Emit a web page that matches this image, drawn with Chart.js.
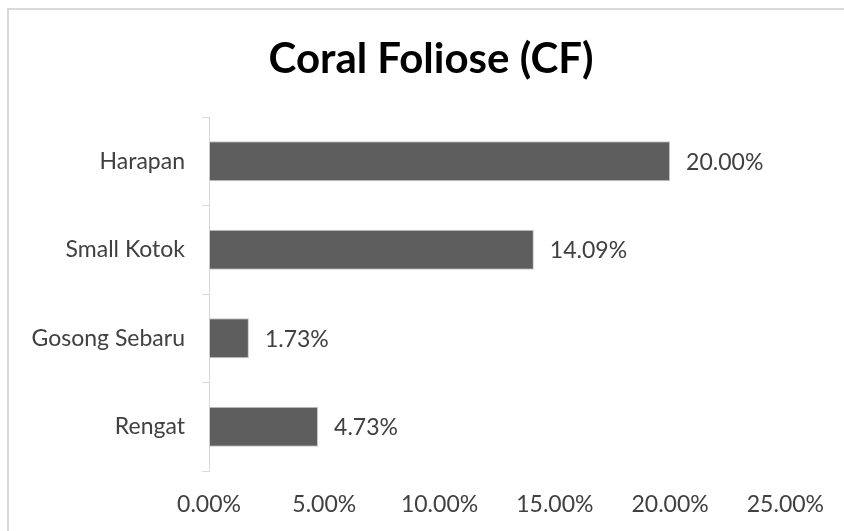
<!DOCTYPE html>
<html lang="en">
<head>
    <meta charset="UTF-8">
    <title>Coral Foliose (CF)</title>
    <script src="https://cdn.jsdelivr.net/npm/chart.js"></script>
    <style>
        body {
            margin: 0;
            background-color: #fff;
            overflow: hidden;
        }
        .wrap {
            position: relative;
            width: 844px;
            height: 531px;
        }
    </style>
</head>
<body>
    <div class="wrap">
        <canvas id="cfChart"></canvas>
    </div>

    <script>
        var chartTitle = 'Coral Foliose (CF)';
        var sites = ['Harapan', 'Small Kotok', 'Gosong Sebaru', 'Rengat'];
        var coverValues = [20.00, 14.09, 1.73, 4.73];
        var axisTicks = [0, 5, 10, 15, 20, 25];

        var fontFamily = 'Lato, "Open Sans", sans-serif';
        var textColor = '#404040';

        // outer frame + title drawn straight on the canvas
        var frameAndTitle = {
            id: 'frameAndTitle',
            beforeDraw: function(chart) {
                var ctx = chart.ctx;
                ctx.save();
                ctx.strokeStyle = '#d9d9d9';
                ctx.lineWidth = 2;
                ctx.beginPath();
                ctx.moveTo(8, chart.height);
                ctx.lineTo(8, 9);
                ctx.lineTo(chart.width, 9);
                ctx.stroke();

                ctx.font = 'bold 42px ' + fontFamily;
                ctx.fillStyle = '#000';
                ctx.textAlign = 'center';
                ctx.textBaseline = 'alphabetic';
                ctx.fillText(chartTitle, 431, 73);
                ctx.restore();
            }
        };

        // value labels to the right of each bar
        var valueLabels = {
            id: 'valueLabels',
            afterDatasetsDraw: function(chart) {
                var ctx = chart.ctx;
                var meta = chart.getDatasetMeta(0);
                ctx.save();
                ctx.font = '23px ' + fontFamily;
                ctx.fillStyle = textColor;
                ctx.textAlign = 'left';
                ctx.textBaseline = 'middle';
                meta.data.forEach(function(bar, i) {
                    ctx.fillText(coverValues[i].toFixed(2) + '%', bar.x + 16, bar.y + 1);
                });
                ctx.restore();
            }
        };

        var ctx = document.getElementById('cfChart').getContext('2d');
        new Chart(ctx, {
            type: 'bar',
            data: {
                labels: sites,
                datasets: [{
                    data: coverValues,
                    backgroundColor: '#5e5e5e',
                    borderColor: '#c8c8c8',
                    borderWidth: 1,
                    borderSkipped: false,
                    categoryPercentage: 1,
                    barPercentage: 0.45
                }]
            },
            options: {
                indexAxis: 'y',
                responsive: true,
                maintainAspectRatio: false,
                animation: false,
                layout: {
                    padding: { left: 0, right: 45, top: 117, bottom: 0 }
                },
                plugins: {
                    legend: { display: false },
                    tooltip: { enabled: false },
                    title: { display: false }
                },
                scales: {
                    x: {
                        min: 0,
                        max: 25,
                        afterBuildTicks: function(scale) {
                            scale.ticks = axisTicks.map(function(v) { return { value: v }; });
                        },
                        afterFit: function(scale) {
                            scale.height = 60;
                        },
                        grid: { display: false, drawTicks: false },
                        border: { display: false },
                        ticks: {
                            padding: 20,
                            color: textColor,
                            font: { family: fontFamily, size: 23 },
                            maxRotation: 0,
                            callback: function(value) {
                                return value.toFixed(2) + '%';
                            }
                        }
                    },
                    y: {
                        afterFit: function(scale) {
                            scale.width = 209;
                        },
                        grid: {
                            offset: true,
                            drawOnChartArea: false,
                            tickLength: 7,
                            color: '#d9d9d9'
                        },
                        border: { display: true, color: '#d9d9d9', width: 1 },
                        ticks: {
                            padding: 17,
                            color: textColor,
                            font: { family: fontFamily, size: 23 }
                        }
                    }
                }
            },
            plugins: [frameAndTitle, valueLabels]
        });
    </script>
</body>
</html>
